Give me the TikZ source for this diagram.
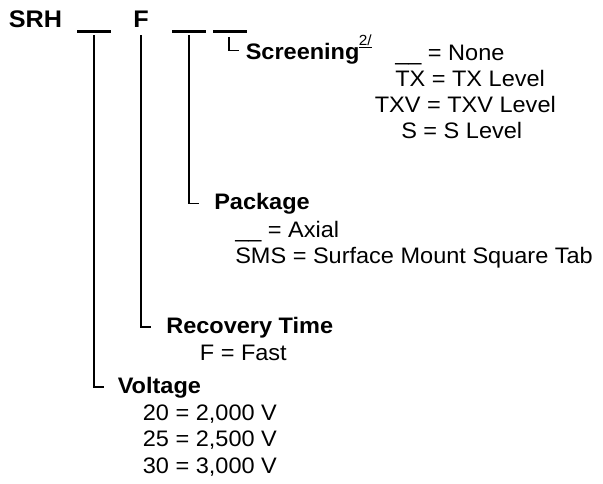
\documentclass[tikz,border=0pt]{standalone}
\usepackage{fontspec}
\setmainfont{Liberation Sans}[FakeStretch=1.05]
\begin{document}
\begin{tikzpicture}[x=0.75pt,y=-0.75pt,
  txt/.style={anchor=base west, inner sep=0pt, font=\fontsize{16.8}{19}\selectfont},
  lbl/.style={anchor=base west, inner sep=0pt, font=\fontsize{16.8}{19}\selectfont\bfseries},
  big/.style={anchor=base west, inner sep=0pt, font=\fontsize{18}{21}\selectfont\bfseries},
  bar/.style={fill=black, inner sep=0pt, minimum height=2.25pt, minimum width=25.5pt},
  conn/.style={line width=1.3pt}]
\useasboundingbox (0,0) rectangle (603,483);

% code line
\node[big] (srh) at (8.5,27) {SRH};
\node[big] (F) at (133,27) {F};
\node[bar] (b1) at (94,31.8) {};
\node[bar] (b2) at (188.7,31.8) {};
\node[bar] (b3) at (229.8,31.8) {};

% corner coordinates
\coordinate (sc) at (239,50.5);
\coordinate (pc) at (198.5,203.5);
\coordinate (rc) at (151,326.7);
\coordinate (vc) at (104,387);

% connectors
\draw[conn] ([yshift=-2.5pt]b3.south -| sc) ++(-10,0) coordinate (st) |- (sc);
\draw[conn] ([yshift=-1.2pt]b2.south) |- (pc);
\draw[conn] (F.base -| 141,0) ++(0,8) |- (rc);
\draw[conn] ([yshift=-1.2pt]b1.south) |- (vc);

% Screening
\node[lbl] (scr) at (245.5,59) {Screening};
\node[txt, font=\fontsize{11}{13}\selectfont] (sup) at (358.5,45.5) {\underline{2/}};
\node[txt] (s1) at (395,60) {\_\_ = None};
\node[txt] (s2) at (395,86) {TX = TX Level};
\node[txt] (s3) at (374.5,112.5) {TXV = TXV Level};
\node[txt] (s4) at (401,138.5) {S = S Level};

% Package
\node[lbl] (pkg) at (214,209) {Package};
\node[txt] (p1) at (235,237) {\_\_ = Axial};
\node[txt] (p2) at (235,263.5) {SMS = Surface Mount Square Tab};

% Recovery Time
\node[lbl] (rec) at (166,333) {Recovery Time};
\node[txt] (r1) at (199.6,360) {F = Fast};

% Voltage
\node[lbl] (volt) at (117.5,393) {Voltage};
\node[txt] (v1) at (142.6,420) {20 = 2,000 V};
\node[txt] (v2) at (142.6,446.7) {25 = 2,500 V};
\node[txt] (v3) at (142.6,473) {30 = 3,000 V};
\end{tikzpicture}
\end{document}
